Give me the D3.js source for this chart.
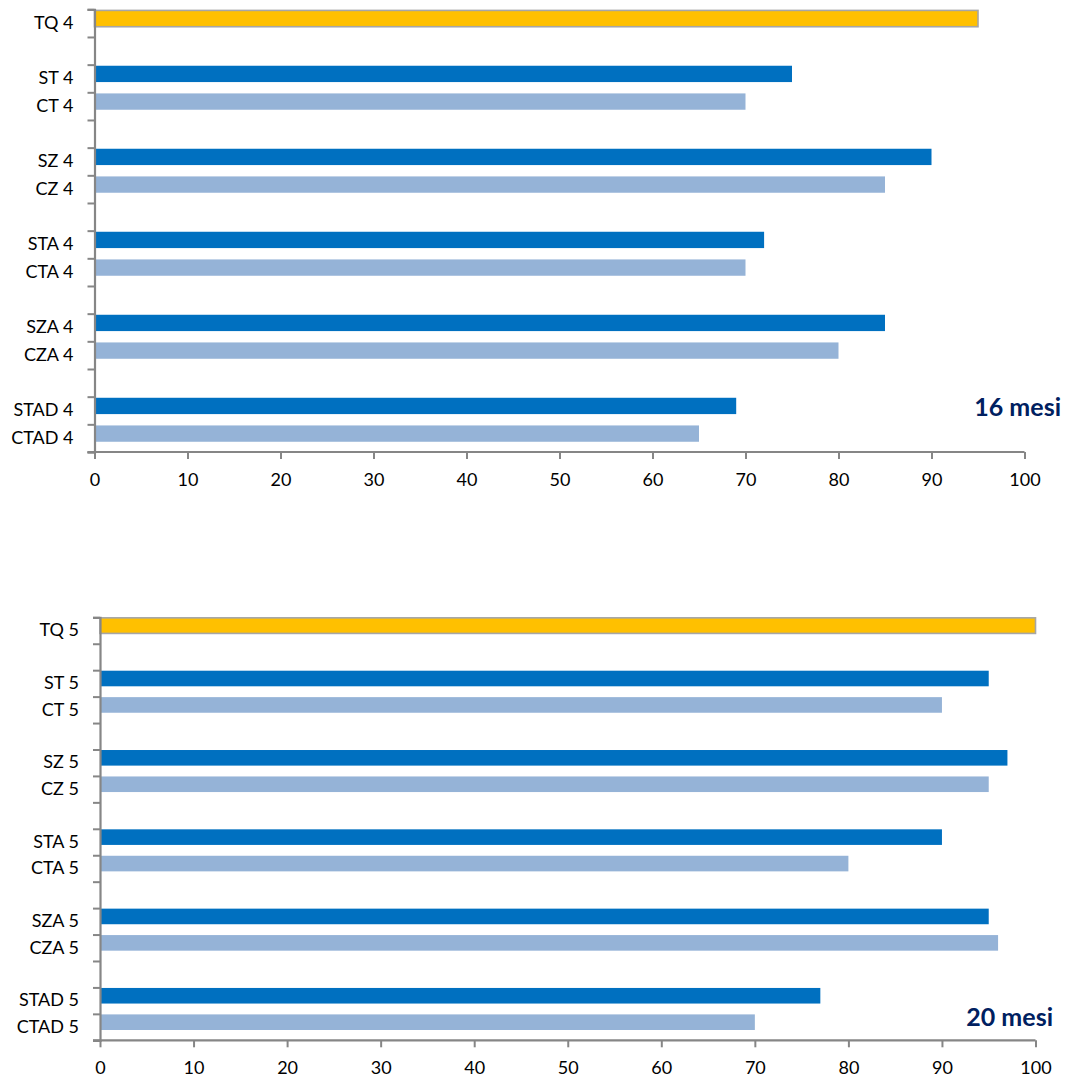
<!DOCTYPE html>
<html>
<head>
<meta charset="utf-8">
<script src="https://cdn.jsdelivr.net/npm/d3@7"></script>
<style>
  html, body { margin: 0; padding: 0; background: #fff; }
  svg { display: block; font-family: Lato, "Open Sans", sans-serif; }
</style>
</head>
<body>
<svg id="chart" width="1070" height="1078"></svg>
<script>
// Category labels and percentages, listed from the top of each panel downwards.
const categories16 = ["TQ 4", "ST 4", "CT 4", "SZ 4", "CZ 4", "STA 4", "CTA 4", "SZA 4", "CZA 4", "STAD 4", "CTAD 4"];
const values16 = [95, 75, 70, 90, 85, 72, 70, 85, 80, 69, 65];

const categories20 = ["TQ 5", "ST 5", "CT 5", "SZ 5", "CZ 5", "STA 5", "CTA 5", "SZA 5", "CZA 5", "STAD 5", "CTAD 5"];
const values20 = [100, 95, 90, 97, 95, 90, 80, 95, 96, 77, 70];

const xTicks = [0, 10, 20, 30, 40, 50, 60, 70, 80, 90, 100];
const panelTitles = ["16 mesi", "20 mesi"];

const colors = { total: "#FFC000", s: "#0070C0", c: "#95B3D7", axis: "#868686", border: "#A6A6A6", title: "#002060" };

const svg = d3.select("#chart");

// Build the row layout: total row, then an empty row before every S/C pair.
function buildRows(cats, vals) {
  const rows = [];
  cats.forEach((c, i) => {
    if (i === 1 || (i > 1 && i % 2 === 1)) rows.push({ key: "gap" + i, label: "", value: null });
    const kind = i === 0 ? "total" : (c.startsWith("S") ? "s" : "c");
    rows.push({ key: c, label: c, value: vals[i], kind });
  });
  return rows;
}

function drawPanel(cfg) {
  const rows = buildRows(cfg.categories, cfg.values);
  const g = svg.append("g");

  const x = d3.scaleLinear().domain([0, 100]).range([cfg.left, cfg.right]);
  const y = d3.scaleBand().domain(rows.map(r => r.key)).range([cfg.top, cfg.bottom]).paddingInner(0).paddingOuter(0);
  const slot = y.bandwidth();
  const boundary = d3.scaleLinear().domain([0, rows.length]).range([cfg.top, cfg.bottom]);

  // Bars
  const bars = rows.filter(r => r.value != null);
  g.selectAll("rect.bar").data(bars).join("rect")
    .attr("class", "bar")
    .attr("x", x(0))
    .attr("y", d => y(d.key) + slot * cfg.barOffset)
    .attr("width", d => x(d.value) - x(0))
    .attr("height", slot * 0.59)
    .attr("fill", d => colors[d.kind])
    .attr("stroke", d => d.kind === "total" ? colors.border : "none")
    .attr("stroke-width", 1.6);

  // Category tick marks between rows
  const tickAxis = g.append("g")
    .attr("transform", `translate(${cfg.left},0)`)
    .call(d3.axisLeft(boundary).tickValues(d3.range(0, rows.length + 1)).tickSize(7).tickFormat(""));
  tickAxis.selectAll("line").attr("stroke", colors.axis).attr("stroke-width", 2);
  tickAxis.select(".domain").attr("stroke", colors.axis).attr("stroke-width", 2.2);

  // Category labels centred in each row
  const labelAxis = g.append("g")
    .attr("transform", `translate(${cfg.left},0)`)
    .call(d3.axisLeft(y).tickSize(0).tickPadding(cfg.labelGap).tickFormat(k => rows.find(r => r.key === k).label));
  labelAxis.select(".domain").remove();
  labelAxis.selectAll("text").attr("font-size", 18).attr("fill", "#000").attr("font-family", "Lato, sans-serif");

  // Value axis
  const xAxis = g.append("g")
    .attr("transform", `translate(0,${cfg.bottom})`)
    .call(d3.axisBottom(x).tickValues(xTicks).tickSize(7).tickPadding(14));
  xAxis.select(".domain").attr("stroke", colors.axis).attr("stroke-width", 2.2)
    .attr("d", `M${cfg.left - 7},0H${cfg.right}`);
  xAxis.selectAll("line").attr("stroke", colors.axis).attr("stroke-width", 2);
  xAxis.selectAll("text").attr("font-size", 18).attr("fill", "#000").attr("font-family", "Lato, sans-serif");

  // Panel title
  g.append("text")
    .attr("x", cfg.titleX)
    .attr("y", cfg.titleY)
    .attr("text-anchor", "end")
    .attr("font-size", 25)
    .attr("font-weight", "bold")
    .attr("fill", colors.title)
    .attr("font-family", "Lato, sans-serif")
    .text(cfg.title);
}

drawPanel({
  categories: categories16, values: values16, title: panelTitles[0],
  left: 94.5, right: 1024.5, top: 9.3, bottom: 452,
  barOffset: 0.04, labelGap: 21, titleX: 1061, titleY: 416
});

drawPanel({
  categories: categories20, values: values20, title: panelTitles[1],
  left: 100, right: 1035.5, top: 617.3, bottom: 1040.3,
  barOffset: 0.02, labelGap: 21, titleX: 1053, titleY: 1026
});
</script>
</body>
</html>
